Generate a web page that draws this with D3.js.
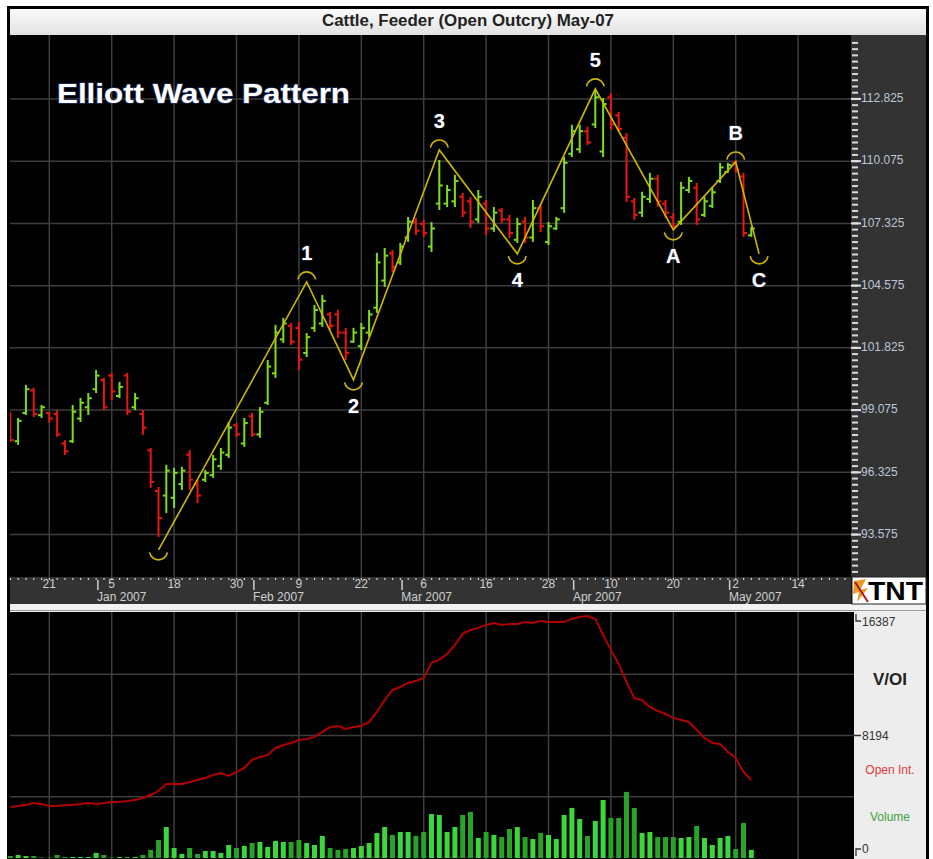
<!DOCTYPE html>
<html>
<head>
<meta charset="utf-8">
<script src="https://cdn.jsdelivr.net/npm/d3@7"></script>
<style>
body { margin: 0; background: #fff; }
svg { display: block; }
</style>
</head>
<body>
<div id="vis"></div>
<script>
// daily OHLC, Cattle Feeder May-07, Dec 14 2006 .. May 4 2007 (one entry per trading day)
const opens = [98.8, 97.7, 98.95, 99.95, 98.85, 98.95, 98.9, 97.6, 97.7, 98.7, 99.2, 100.0, 100.4, 100.6, 99.7, 100.6, 99.2, 98.9, 97.3, 95.5,
    95.3, 95.2, 95.8, 97.1, 95.8, 96.0, 96.2, 96.6, 97.1, 98.4, 97.6, 98.8, 98.0, 99.4, 100.7, 102.2, 102.8, 102.7, 101.6, 102.7,
    102.9, 103.3, 103.3, 102.5, 102.1, 101.9, 102.5, 103.6, 104.8, 106.0, 105.6, 106.7, 107.4, 107.3, 106.3, 108.2, 108.2, 108.3, 108.5, 108.3,
    107.5, 108.2, 107.1, 107.9, 107.5, 106.6, 107.4, 106.7, 108.0, 106.5, 107.1, 108.0, 110.4, 110.6, 111.4, 111.7, 110.5, 112.9, 112.1, 111.1,
    108.3, 107.8, 108.4, 109.3, 108.2, 107.6, 107.4, 108.8, 108.9, 107.7, 108.1, 109.2, 109.6, 110.0, 109.4, 106.8];
const highs = [98.99, 98.73, 100.19, 100.06, 99.30, 98.99, 99.08, 97.75, 99.30, 99.61, 99.83, 100.85, 100.50, 100.72, 100.32, 100.72, 99.83, 99.08, 97.40, 95.68,
    96.66, 96.52, 96.57, 97.31, 95.99, 96.43, 97.09, 97.40, 98.55, 98.51, 98.73, 98.95, 99.21, 101.29, 102.84, 103.15, 102.93, 102.97, 102.48, 103.72,
    104.16, 103.41, 103.50, 102.71, 102.71, 102.93, 103.50, 106.02, 106.24, 106.15, 106.46, 107.61, 107.57, 107.48, 107.39, 110.13, 109.02, 109.47, 108.67, 108.49,
    108.80, 108.36, 108.05, 108.01, 107.70, 107.57, 107.61, 108.36, 108.14, 107.39, 107.61, 110.26, 111.68, 111.68, 111.59, 113.22, 112.87, 113.09, 112.25, 111.32,
    108.45, 108.72, 109.56, 109.47, 108.36, 107.79, 109.16, 109.38, 109.11, 108.49, 108.94, 110.00, 110.00, 110.13, 109.56, 107.17];
const lows = [97.67, 97.54, 98.86, 98.77, 98.73, 98.51, 97.89, 97.09, 97.62, 98.55, 98.86, 99.83, 99.08, 99.52, 99.61, 98.86, 99.08, 97.98, 95.64, 93.47,
    94.53, 94.75, 95.55, 95.55, 94.97, 95.90, 96.08, 96.43, 96.96, 97.89, 97.45, 97.89, 97.85, 99.30, 100.50, 102.04, 101.95, 100.85, 101.42, 102.53,
    102.75, 102.62, 102.26, 101.29, 102.04, 101.73, 102.31, 103.37, 104.52, 105.18, 105.49, 106.51, 106.82, 106.73, 106.06, 107.92, 108.05, 108.05, 107.61, 107.13,
    107.35, 106.82, 106.95, 107.35, 106.68, 106.46, 106.46, 106.51, 106.95, 106.37, 107.04, 107.79, 110.26, 110.44, 110.79, 111.54, 110.26, 111.46, 111.37, 108.27,
    107.48, 107.61, 108.23, 108.05, 107.57, 107.04, 107.26, 108.67, 107.26, 107.61, 108.01, 109.11, 109.56, 109.56, 106.73, 106.73];
const closes = [97.75, 98.6, 100.0, 98.9, 99.2, 98.7, 98.0, 97.25, 99.0, 99.4, 99.6, 100.6, 99.2, 99.9, 100.1, 99.0, 99.6, 98.3, 95.9, 94.3,
    96.4, 96.3, 96.4, 96.0, 95.3, 96.3, 96.9, 97.2, 98.3, 98.0, 98.5, 98.0, 99.0, 101.0, 102.5, 102.9, 102.1, 101.3, 102.3, 103.5,
    103.9, 102.8, 102.5, 101.6, 102.5, 102.7, 103.3, 105.6, 105.9, 105.4, 106.3, 107.4, 107.0, 106.9, 107.1, 109.0, 108.8, 109.2, 107.8, 107.4,
    108.5, 107.1, 107.8, 107.5, 106.9, 107.3, 106.7, 108.0, 107.2, 107.2, 107.5, 110.0, 111.4, 111.4, 110.9, 112.9, 112.6, 111.7, 111.5, 108.5,
    107.7, 108.5, 109.3, 108.3, 107.8, 107.2, 108.9, 109.2, 107.5, 108.3, 108.7, 109.8, 109.9, 109.7, 106.9, 107.1];
const volumes = [130, 200, 130, 130, 30, 30, 200, 70, 70, 70, 70, 340, 200, 30, 70, 70, 70, 200, 540, 1200,
    2070, 670, 270, 670, 270, 470, 470, 340, 870, 670, 800, 1000, 1070, 740, 1140, 1070, 1070, 1200, 1000, 870,
    1470, 670, 540, 600, 670, 800, 1000, 1670, 2070, 1540, 1740, 1740, 1470, 1740, 2940, 2880, 1740, 2070, 2880, 3080,
    1340, 1740, 1540, 1400, 1940, 2070, 1400, 1270, 1670, 1540, 1270, 2880, 3350, 2610, 1470, 2480, 3880, 2680, 2680, 4420,
    3350, 1670, 1740, 1400, 1400, 1400, 1340, 1400, 2140, 1340, 870, 1340, 1470, 600, 2340, 540];
const openInterest = [3410, 3480, 3550, 3680, 3610, 3480, 3480, 3550, 3550, 3610, 3680, 3610, 3680, 3750, 3750, 3810, 3880, 4010, 4210, 4480,
    4950, 4950, 4950, 5080, 5220, 5350, 5550, 5690, 5490, 5750, 6020, 6560, 6760, 6890, 7360, 7560, 7690, 7890, 7960, 8100,
    8430, 8760, 8830, 8630, 8760, 8830, 9100, 9770, 10570, 11240, 11440, 11710, 11840, 12040, 13050, 13250, 13650, 14250, 14990, 15250,
    15390, 15590, 15720, 15590, 15650, 15650, 15790, 15720, 15860, 15790, 15790, 15790, 15990, 16120, 16190, 15990, 14920, 13920, 12980, 11770,
    10700, 10570, 10100, 9830, 9630, 9370, 9230, 9100, 8560, 8030, 7690, 7630, 7090, 6690, 5750, 5220];

const dayTicks = [5, 13, 21, 29, 37, 45, 53, 61, 69, 77, 85, 93, 101];
const dayLabels = ["21", "5", "18", "30", "9", "22", "6", "16", "28", "10", "20", "2", "14"];
const monthTicks = [11, 31, 50, 72, 92];
const monthLabels = ["Jan 2007", "Feb 2007", "Mar 2007", "Apr 2007", "May 2007"];
const priceTicks = [93.575, 96.325, 99.075, 101.825, 104.575, 107.325, 110.075, 112.825];
const oiTicks = [0, 8194, 16387];

// Elliott wave turning points (bar index, price)
const waveIdx = [19, 38, 44, 55, 65, 75, 85, 93, 96];
const wavePrice = [92.9, 104.74, 100.41, 110.57, 105.98, 113.27, 107.04, 110.04, 105.98];
const waveLabels = ["", "1", "2", "3", "4", "5", "A", "B", "C"];

const W = 933, H = 859;
const left = 10, plotRight = 851, right = 926;
const mainTop = 35, mainBottom = 577, bandBottom = 604, lowTop = 612, lowBottom = 859;

const svg = d3.select("#vis").append("svg")
    .attr("width", W)
    .attr("height", H)
    .style("font-family", "'Liberation Sans', Arial, sans-serif");

const x = d3.scaleLinear().domain([0, 108]).range([10.3, 10.3 + 7.8 * 108]);
const y = d3.scaleLinear().domain([91.70, 115.65]).range([mainBottom, mainTop]);
const yLow = d3.scaleLinear().domain([0, 16387]).range([858, 613]);

// frame and panels
svg.append("rect").attr("x", 7).attr("y", 6).attr("width", right - 7 + 3).attr("height", H - 6).attr("fill", "#000");

const grad = svg.append("defs").append("linearGradient").attr("id", "tb").attr("x1", 0).attr("y1", 0).attr("x2", 0).attr("y2", 1);
grad.append("stop").attr("offset", "0%").attr("stop-color", "#fbfbfb");
grad.append("stop").attr("offset", "100%").attr("stop-color", "#e2e2e2");
svg.append("rect").attr("x", left).attr("y", 9).attr("width", right - left).attr("height", mainTop - 9).attr("fill", "url(#tb)");
svg.append("text")
    .attr("x", (left + right) / 2)
    .attr("y", 22)
    .attr("text-anchor", "middle")
    .attr("dominant-baseline", "middle")
    .attr("textLength", 292)
    .attr("lengthAdjust", "spacingAndGlyphs")
    .style("font-family", "'Liberation Sans Narrow', 'Liberation Sans', sans-serif")
    .style("font-size", "16px")
    .style("font-weight", "bold")
    .attr("fill", "#222")
    .text("Cattle, Feeder (Open Outcry) May-07");

svg.append("rect").attr("x", plotRight).attr("y", mainTop).attr("width", right - plotRight).attr("height", mainBottom - mainTop).attr("fill", "#333");
svg.append("rect").attr("x", left).attr("y", mainBottom).attr("width", plotRight - left).attr("height", bandBottom - mainBottom).attr("fill", "#333");
svg.append("rect").attr("x", left).attr("y", bandBottom).attr("width", right - left).attr("height", lowTop - bandBottom).attr("fill", "#f2f2f2");
svg.append("line").attr("x1", left).attr("x2", right).attr("y1", lowTop - 1.5).attr("y2", lowTop - 1.5).attr("stroke", "#999").attr("stroke-width", 1);
svg.append("rect").attr("x", plotRight + 3).attr("y", lowTop).attr("width", right - plotRight - 3).attr("height", lowBottom - lowTop).attr("fill", "#ededed");

const gridColor = "#3d3d3d";

// main grid
svg.append("g").selectAll("line")
    .data(priceTicks)
    .join("line")
    .attr("x1", left).attr("x2", plotRight)
    .attr("y1", d => y(d)).attr("y2", d => y(d))
    .attr("stroke", gridColor).attr("stroke-width", 1.5);
svg.append("g").selectAll("line")
    .data(dayTicks.filter(d => x(d) < plotRight))
    .join("line")
    .attr("x1", d => x(d)).attr("x2", d => x(d))
    .attr("y1", mainTop).attr("y2", mainBottom)
    .attr("stroke", gridColor).attr("stroke-width", 1.5);

// right price axis
const minorTicks = d3.range(priceTicks[0] - 0.275 * 7, 115.6, 0.275).filter(d => y(d) > mainTop + 2 && y(d) < mainBottom - 2);
svg.append("g").selectAll("rect")
    .data(minorTicks)
    .join("rect")
    .attr("x", plotRight + 1).attr("y", d => y(d) - 1)
    .attr("width", 6).attr("height", 2)
    .attr("fill", "#d8d8d8");
const pa = svg.append("g");
pa.selectAll("rect")
    .data(priceTicks)
    .join("rect")
    .attr("x", plotRight).attr("y", d => y(d) - 1)
    .attr("width", 10).attr("height", 2)
    .attr("fill", "#e0e0e0");
pa.selectAll("text")
    .data(priceTicks)
    .join("text")
    .attr("x", plotRight + 10)
    .attr("y", d => y(d))
    .attr("dominant-baseline", "middle")
    .style("font-size", "12px")
    .attr("fill", "#bcc6d6")
    .text(d => d.toFixed(3));

// date axis band
svg.append("g").selectAll("rect")
    .data(d3.range(0, 108))
    .join("rect")
    .attr("x", d => x(d) - 0.5).attr("y", mainBottom + 1)
    .attr("width", 1.2).attr("height", 2)
    .attr("fill", "#cfcfcf");
svg.append("g").selectAll("text")
    .data(dayTicks)
    .join("text")
    .attr("x", d => x(d))
    .attr("y", 585)
    .attr("text-anchor", "middle")
    .attr("dominant-baseline", "middle")
    .style("font-family", "'Liberation Sans Narrow', 'Liberation Sans', sans-serif")
    .style("font-size", "12px")
    .attr("fill", "#cfcfcf")
    .text((d, i) => dayLabels[i]);
svg.append("g").selectAll("rect")
    .data(monthTicks)
    .join("rect")
    .attr("x", d => x(d) + 1).attr("y", 580)
    .attr("width", 1.5).attr("height", 10)
    .attr("fill", "#cfcfcf");
svg.append("g").selectAll("text")
    .data(monthTicks)
    .join("text")
    .attr("x", d => x(d) + 1)
    .attr("y", 598)
    .attr("dominant-baseline", "middle")
    .style("font-family", "'Liberation Sans Narrow', 'Liberation Sans', sans-serif")
    .style("font-size", "12px")
    .attr("fill", "#cfcfcf")
    .text((d, i) => monthLabels[i]);

// TNT logo box
const logo = svg.append("g");
logo.append("rect").attr("x", plotRight + 1).attr("y", mainBottom).attr("width", right - plotRight - 1).attr("height", bandBottom - mainBottom).attr("fill", "#fff").attr("stroke", "#222");
logo.append("path")
    .attr("d", "M854,581 L866,579 L860,590 L868,588 L857,602 L859,592 L853,594 Z")
    .attr("fill", "#e89a2a");
logo.append("line").attr("x1", 855).attr("y1", 582).attr("x2", 868).attr("y2", 602).attr("stroke", "#b01818").attr("stroke-width", 2);
logo.append("text")
    .attr("x", 868).attr("y", 600)
    .attr("textLength", 55)
    .attr("lengthAdjust", "spacingAndGlyphs")
    .style("font-family", "'Liberation Sans Narrow', 'Liberation Sans', sans-serif")
    .style("font-size", "26px")
    .style("font-weight", "bold")
    .attr("fill", "#000")
    .text("TNT");

// OHLC bars
svg.append("defs").append("clipPath").attr("id", "plotclip")
    .append("rect").attr("x", left).attr("y", mainTop).attr("width", plotRight - left).attr("height", mainBottom - mainTop);
const up = "#7edc1e", down = "#ea1610";
const bars = svg.append("g").attr("clip-path", "url(#plotclip)")
    .selectAll("g")
    .data(d3.range(opens.length))
    .join("g")
    .attr("fill", i => closes[i] >= opens[i] ? up : down);
bars.append("rect")
    .attr("x", i => x(i) - 1).attr("y", i => y(highs[i]))
    .attr("width", 2).attr("height", i => y(lows[i]) - y(highs[i]));
bars.append("rect")
    .attr("x", i => x(i) - 3.5).attr("y", i => y(opens[i]) - 1)
    .attr("width", 3).attr("height", 2);
bars.append("rect")
    .attr("x", i => x(i) + 0.5).attr("y", i => y(closes[i]) - 1)
    .attr("width", 3).attr("height", 2);

// Elliott wave zigzag
const waveColor = "#cdb800";
const pts = waveIdx.map((d, i) => [x(d), y(wavePrice[i])]);
svg.append("path")
    .attr("d", d3.line()(pts))
    .attr("fill", "none")
    .attr("stroke", waveColor)
    .attr("stroke-width", 1.6);
const isPeak = wavePrice.map((p, i) => {
    const nb = i === 0 ? wavePrice[1] : wavePrice[i - 1];
    return p > nb;
});
svg.append("g").selectAll("path")
    .data(pts)
    .join("path")
    .attr("d", (d, i) => {
        const p = d3.path();
        if (isPeak[i]) {
            p.arc(d[0], d[1] - 1, 9, Math.PI * 1.05, Math.PI * 1.95);
        } else {
            p.arc(d[0], d[1] + 1, 9, Math.PI * 0.05, Math.PI * 0.95);
        }
        return p.toString();
    })
    .attr("fill", "none")
    .attr("stroke", waveColor)
    .attr("stroke-width", 1.6);
svg.append("g").selectAll("text")
    .data(pts)
    .join("text")
    .attr("x", d => d[0])
    .attr("y", (d, i) => isPeak[i] ? d[1] - 27 : d[1] + 28)
    .attr("text-anchor", "middle")
    .attr("dominant-baseline", "middle")
    .style("font-size", "20px")
    .style("font-weight", "bold")
    .attr("fill", "#fff")
    .attr("stroke", "#26345a")
    .attr("stroke-width", 1)
    .style("paint-order", "stroke")
    .text((d, i) => waveLabels[i]);

svg.append("text")
    .attr("x", 57).attr("y", 103)
    .attr("textLength", 293)
    .attr("lengthAdjust", "spacingAndGlyphs")
    .style("font-size", "28px")
    .style("font-weight", "bold")
    .attr("fill", "#fff")
    .attr("stroke", "#1f2f66")
    .attr("stroke-width", 1.5)
    .style("paint-order", "stroke")
    .text("Elliott Wave Pattern");

// lower panel: volume and open interest
svg.append("g").selectAll("line")
    .data([4096, 8194, 12290])
    .join("line")
    .attr("x1", left).attr("x2", plotRight + 3)
    .attr("y1", d => yLow(d)).attr("y2", d => yLow(d))
    .attr("stroke", gridColor).attr("stroke-width", 1.5);
svg.append("g").selectAll("line")
    .data(dayTicks.filter(d => x(d) < plotRight))
    .join("line")
    .attr("x1", d => x(d)).attr("x2", d => x(d))
    .attr("y1", lowTop).attr("y2", lowBottom)
    .attr("stroke", gridColor).attr("stroke-width", 1.5);

svg.append("g").selectAll("rect")
    .data(volumes)
    .join("rect")
    .attr("x", (d, i) => x(i) - 2.5)
    .attr("y", d => yLow(d))
    .attr("width", 5)
    .attr("height", d => yLow(0) - yLow(d))
    .attr("fill", (d, i) => closes[i] >= opens[i] ? "#3ad83a" : "#27a327");

svg.append("path")
    .attr("d", d3.line().x((d, i) => x(i)).y(d => yLow(d))(openInterest))
    .attr("fill", "none")
    .attr("stroke", "#b00000")
    .attr("stroke-width", 2);

// V/OI labels
const lab = svg.append("g").style("font-size", "12px");
lab.append("path").attr("d", "M856,614 V621 H861").attr("fill", "none").attr("stroke", "#333").attr("stroke-width", 1.3);
lab.append("path").attr("d", "M861,849 H856 V856").attr("fill", "none").attr("stroke", "#333").attr("stroke-width", 1.3);
lab.append("line").attr("x1", 852).attr("x2", 861).attr("y1", yLow(oiTicks[1])).attr("y2", yLow(oiTicks[1])).attr("stroke", "#333").attr("stroke-width", 1.5);
lab.selectAll("text.v")
    .data(oiTicks)
    .join("text")
    .attr("class", "v")
    .attr("x", 862)
    .attr("y", (d, i) => i === 0 ? 850 : (i === 2 ? 623 : yLow(d) + 1))
    .attr("dominant-baseline", "middle")
    .attr("fill", "#333")
    .text(d => d);
lab.append("text").attr("x", 890).attr("y", 681).attr("text-anchor", "middle").attr("dominant-baseline", "middle")
    .style("font-size", "17px").style("font-weight", "bold").attr("fill", "#222").text("V/OI");
lab.append("text").attr("x", 890).attr("y", 771).attr("text-anchor", "middle").attr("dominant-baseline", "middle")
    .attr("fill", "#e23a3a").text("Open Int.");
lab.append("text").attr("x", 890).attr("y", 818).attr("text-anchor", "middle").attr("dominant-baseline", "middle")
    .attr("fill", "#3f9f3f").text("Volume");
</script>
</body>
</html>
